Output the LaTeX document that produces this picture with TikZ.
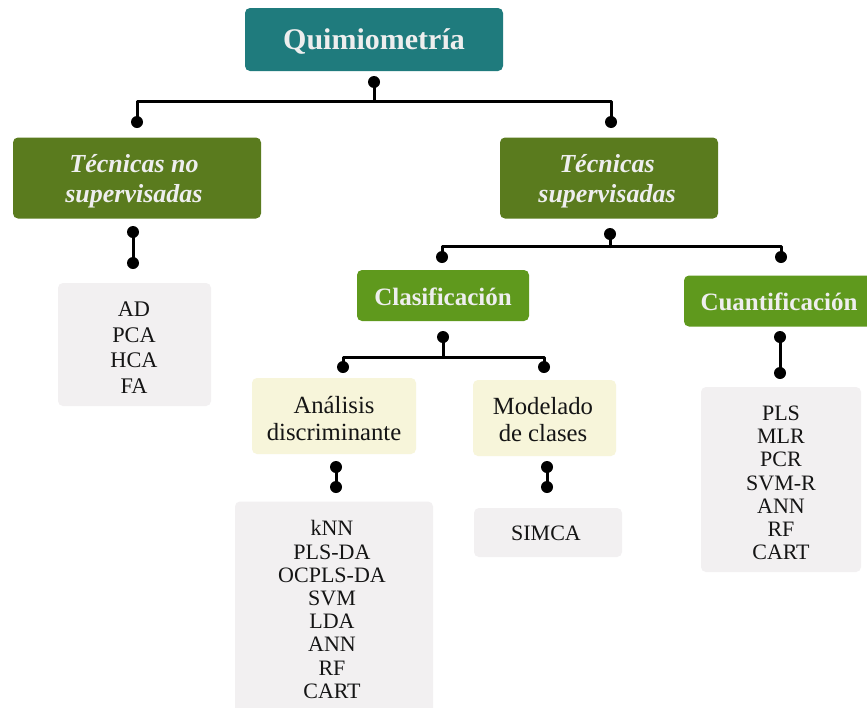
\documentclass[tikz,border=0pt]{standalone}
\usepackage{fontspec}
\setmainfont{Liberation Serif}
\definecolor{teal1}{HTML}{1F7B7D}
\definecolor{olive1}{HTML}{5A7B1E}
\definecolor{green1}{HTML}{5F991D}
\definecolor{yell1}{HTML}{F7F5DA}
\definecolor{gray1}{HTML}{F2F0F1}
\definecolor{wtxt}{HTML}{EEEEEE}
\definecolor{btxt}{HTML}{151515}
\begin{document}
\begin{tikzpicture}[x=1pt,y=-1pt,
  box/.style={rounded corners=5pt, inner sep=0pt, minimum width=#1},
  txt/.style={inner sep=0pt, align=center},
  top/.style={box=258pt, fill=teal1, minimum height=63pt},
  topt/.style={txt, text=wtxt, font=\fontsize{30}{32}\selectfont\bfseries},
  tec/.style={box=#1, fill=olive1, minimum height=81pt},
  tect/.style={txt, text=wtxt, font=\fontsize{26}{30}\selectfont\bfseries\itshape},
  cls/.style={box=#1, fill=green1, minimum height=51pt},
  clst/.style={txt, text=wtxt, font=\fontsize{25}{28}\selectfont\bfseries},
  sub/.style={box=#1, fill=yell1, minimum height=76pt},
  subt/.style={txt, text=btxt, font=\fontsize{24.7}{27}\selectfont},
  lst/.style={box=#1, fill=gray1},
  lstt/.style={txt, text=btxt, font=\fontsize{22}{23.2}\selectfont},
  conn/.style={line width=3pt, line cap=round, line join=round},
  dotr/.style={fill=black}]
\useasboundingbox (0,0) rectangle (867,707);
\clip (0,0) rectangle (867,707);
\fill[white] (0,0) rectangle (867,707);

% boxes
\node[top] (quim) at (374,39.5) {};
\node[topt] (quimT) at (374,41.5) {Quimiometría};
\node[tec=248pt] (tns) at (137,178) {};
\node[tect] (tnsT) at (134,181) {Técnicas no\\supervisadas};
\node[tec=218pt] (ts) at (609,178) {};
\node[tect] (tsT) at (607,181) {Técnicas\\supervisadas};
\node[lst=153pt, minimum height=123pt] (uns) at (134.5,344.5) {};
\node[lstt, font=\fontsize{22.3}{25.6}\selectfont] (unsT) at (134,347.5) {AD\\PCA\\HCA\\FA};
\node[cls=172pt] (clas) at (443,295.5) {};
\node[clst] (clasT) at (443,296.5) {Clasificación};
\node[cls=190pt] (cuant) at (779,301) {};
\node[clst] (cuantT) at (779,302) {Cuantificación};
\node[sub=164pt] (anal) at (334,416) {};
\node[subt] (analT) at (334,419) {Análisis\\discriminante};
\node[sub=143pt] (mod) at (544.5,418) {};
\node[subt] (modT) at (543,420) {Modelado\\de clases};
\node[lst=198pt, minimum height=212pt] (knn) at (334,607.5) {};
\node[lstt] (knnT) at (332,609.5) {kNN\\PLS-DA\\OCPLS-DA\\SVM\\LDA\\ANN\\RF\\CART};
\node[lst=148pt, minimum height=49pt] (simca) at (548,532.5) {};
\node[lstt] (simcaT) at (546,533.5) {SIMCA};
\node[lst=160pt, minimum height=185pt] (reg) at (781,479.5) {};
\node[lstt] (regT) at (781,483) {PLS\\MLR\\PCR\\SVM-R\\ANN\\RF\\CART};

% connector points
\coordinate (q1) at (374,82);
\coordinate (qj) at (374,101);
\coordinate (qL) at (137,122);
\coordinate (qR) at (611,122);

\coordinate (n1) at (133,232);
\coordinate (n2) at (133,263);

\coordinate (s1) at (610,234);
\coordinate (sj) at (610,246.7);
\coordinate (sL) at (442,257);
\coordinate (sR) at (781,257);

\coordinate (c1) at (443,337);
\coordinate (cj) at (443,357);
\coordinate (cL) at (343,367);
\coordinate (cR) at (544,367);

\coordinate (u1) at (780,337);
\coordinate (u2) at (780,373);

\coordinate (a1) at (336,467);
\coordinate (a2) at (336,487);

\coordinate (m1) at (547,467);
\coordinate (m2) at (547,487);

% connectors
\draw[conn] (q1) -- (qj);
\draw[conn] (qL) |- (qj) -| (qR);
\draw[conn] (n1) -- (n2);
\draw[conn] (s1) -- (sj);
\draw[conn] (sL) |- (sj) -| (sR);
\draw[conn] (c1) -- (cj);
\draw[conn] (cL) |- (cj) -| (cR);
\draw[conn] (u1) -- (u2);
\draw[conn] (a1) -- (a2);
\draw[conn] (m1) -- (m2);

% dots
\foreach \p in {q1,qL,qR,n1,n2,s1,sL,sR,c1,cL,cR,u1,u2,a1,a2,m1,m2}
  \fill[dotr] (\p) circle (6);
\end{tikzpicture}
\end{document}
